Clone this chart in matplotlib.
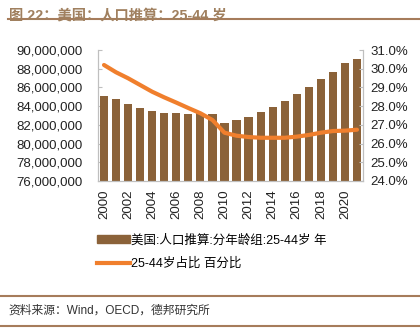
import numpy as np
import matplotlib
matplotlib.use("Agg")
import matplotlib.pyplot as plt
from matplotlib.ticker import FuncFormatter
from matplotlib.patches import Patch
from matplotlib.lines import Line2D

plt.rcParams['font.family'] = ['Liberation Sans', 'Noto Sans CJK SC']

# data
years = list(range(2000, 2022))
pop = [85.06, 84.74, 84.27, 83.77, 83.52, 83.31, 83.27, 83.15, 83.24, 83.13,
       82.24, 82.49, 82.88, 83.34, 83.91, 84.52, 85.27, 86.09, 86.94, 87.69,
       88.65, 89.05]  # millions
share = [30.2, 29.81, 29.49, 29.13, 28.77, 28.47, 28.19, 27.90, 27.62, 27.26,
         26.58, 26.42, 26.35, 26.31, 26.31, 26.31, 26.37, 26.46, 26.58, 26.67,
         26.69, 26.74]  # percent

bar_label = "美国:人口推算:分年龄组:25-44岁 年"
line_label = "25-44岁占比 百分比"
title = "图 22：美国：人口推算：25-44 岁"
source = "资料来源：Wind，OECD，德邦研究所"

bar_color = "#8B6239"
line_color = "#F07F2D"
brown = "#A67C5B"
grey = "#BFBFBF"

fig = plt.figure(figsize=(4.2, 3.33), dpi=100)
ax = fig.add_axes([0.2333, 0.4565, 0.631, 0.3933])
ax2 = ax.twinx()

x = np.arange(len(years))
ax.bar(x, [p * 1e6 for p in pop], width=0.68, color=bar_color, zorder=2)
ax2.plot(x, share, color=line_color, lw=3, solid_capstyle='round', zorder=3)

ax.set_xlim(-0.5, len(years) - 0.5)
ax.set_ylim(76e6, 90e6)
ax.set_yticks(np.arange(76e6, 90.1e6, 2e6))
ax.yaxis.set_major_formatter(FuncFormatter(lambda v, p: f"{v:,.0f}"))
ax2.set_ylim(24, 31)
ax2.set_yticks(np.arange(24, 31.1, 1))
ax2.yaxis.set_major_formatter(FuncFormatter(lambda v, p: f"{v:.1f}%"))

ax.set_xticks(x[::2])
ax.set_xticklabels([str(y) for y in years[::2]], rotation=90)

for a in (ax, ax2):
    a.spines['top'].set_visible(False)
    for s in ('left', 'right', 'bottom'):
        a.spines[s].set_color(grey)
        a.spines[s].set_linewidth(0.8)
    a.tick_params(axis='both', direction='in', length=3, color=grey,
                  labelsize=9.5, labelcolor='#222222')
ax.tick_params(axis='y', pad=11)
ax2.tick_params(axis='y', pad=5.5)
ax.tick_params(axis='x', length=2, pad=6)
ax.set_zorder(ax2.get_zorder() - 1)
ax2.patch.set_visible(False)

# legend under the plot
handles = [Patch(color=bar_color, label=bar_label),
           Line2D([0], [0], color=line_color, lw=3, label=line_label)]
fig.legend(handles=handles, loc='upper left', bbox_to_anchor=(0.232, 0.297),
           frameon=False, fontsize=9, handlelength=2.6, handletextpad=0.05,
           labelspacing=0.9, borderaxespad=0, borderpad=0)

# title and source block
fig.text(0.022, 0.975, title, fontsize=10.3, fontweight='bold', color='#A0805F',
         va='top', ha='left')
fig.add_artist(Line2D([0.02, 1.0], [0.943, 0.943], color=brown, lw=1.5,
                      transform=fig.transFigure))
fig.add_artist(Line2D([0.0, 1.0], [0.111, 0.111], color=brown, lw=1.5,
                      transform=fig.transFigure))
fig.add_artist(Line2D([0.0, 1.0], [0.022, 0.022], color=brown, lw=1.5,
                      transform=fig.transFigure))
fig.text(0.02, 0.066, source, fontsize=8.5, color='#333333', va='center', ha='left')

fig.savefig("out.png", dpi=100)
